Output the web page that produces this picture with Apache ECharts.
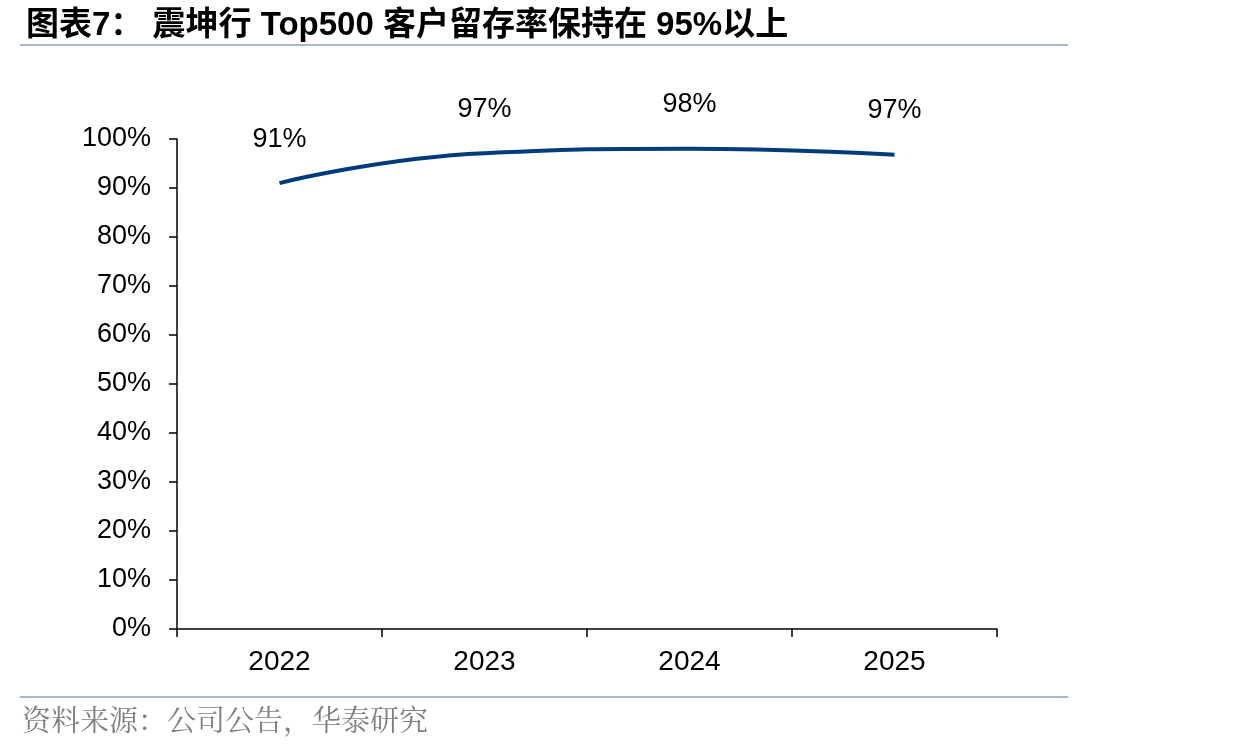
<!DOCTYPE html>
<html>
<head>
<meta charset="utf-8">
<script src="https://cdn.jsdelivr.net/npm/echarts@6/dist/echarts.min.js"></script>
<style>
	html, body { margin: 0; padding: 0; background: #fff; }
	#main { width: 1243px; height: 751px; }
</style>
</head>
<body>
<div id="main"></div>
<script>
// 数据
var years = ["2022", "2023", "2024", "2025"];
var retention = [91.0, 97.1, 98.0, 96.8];
var yTicks = [0, 10, 20, 30, 40, 50, 60, 70, 80, 90, 100];

(function () {
	var myChart = echarts.init(document.getElementById("main"));
	var option = {
		animation: false,
		title: {
			text: "图表7： 震坤行 Top500 客户留存率保持在 95%以上",
			left: 21,
			top: 4,
			textStyle: {
				fontFamily: "Liberation Sans, Noto Sans CJK SC",
				fontWeight: "bold",
				fontSize: 33,
				color: "#000"
			}
		},
		graphic: [
			// 标题下横线
			{ type: "line", shape: { x1: 20, y1: 45, x2: 1068, y2: 45 }, style: { stroke: "#a7b9cc", lineWidth: 2 } },
			// 底部横线
			{ type: "line", shape: { x1: 20, y1: 697, x2: 1068, y2: 697 }, style: { stroke: "#a7b9cc", lineWidth: 2 } },
			{
				type: "text", left: 22, top: 705,
				style: {
					text: "资料来源：公司公告，华泰研究",
					font: "29px 'Noto Serif CJK SC', 'Noto Sans CJK SC'",
					fill: "#7f7f7f"
				}
			}
		],
		grid: {
			left: 177,
			right: 246,
			top: 139,
			bottom: 122
		},
		xAxis: {
			type: "category",
			data: years,
			boundaryGap: true,
			axisLine: { lineStyle: { color: "#000", width: 1.5 } },
			axisTick: { show: true, length: 8, lineStyle: { color: "#000", width: 1.5 } },
			axisLabel: {
				color: "#000",
				fontSize: 28,
				fontFamily: "Liberation Sans",
				margin: 19
			}
		},
		yAxis: {
			type: "value",
			min: 0,
			max: 100,
			interval: 10,
			axisLine: { show: true, lineStyle: { color: "#000", width: 1.5 } },
			axisTick: { show: true, length: 8, lineStyle: { color: "#000", width: 1.5 } },
			splitLine: { show: false },
			axisLabel: {
				color: "#000",
				fontSize: 27,
				fontFamily: "Liberation Sans",
				margin: 26,
				formatter: function (v) {
					return yTicks.indexOf(v) >= 0 ? v + "%" : "";
				}
			}
		},
		series: [
			{
				type: "line",
				data: retention,
				smooth: 0.5,
				symbol: "circle",
				symbolSize: 1,
				showSymbol: true,
				itemStyle: { color: "rgba(0,0,0,0)" },
				lineStyle: { color: "#003b7c", width: 4 },
				label: {
					show: true,
					position: "top",
					distance: 30,
					color: "#000",
					fontSize: 27,
					fontFamily: "Liberation Sans",
					formatter: function (p) {
						return Math.round(p.value) + "%";
					}
				}
			}
		]
	};
	myChart.setOption(option);
})();
</script>
</body>
</html>
